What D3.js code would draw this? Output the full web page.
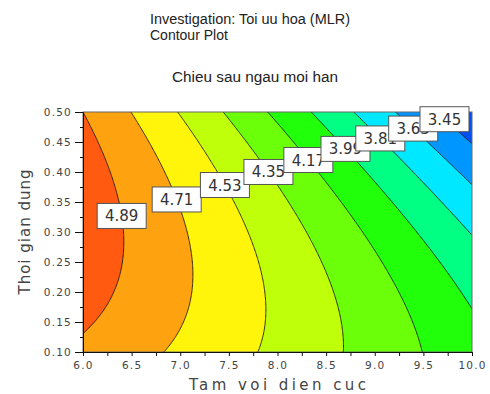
<!DOCTYPE html>
<html>
<head>
<meta charset="utf-8">
<script src="https://cdn.jsdelivr.net/npm/d3@7"></script>
<style>
  body { margin: 0; background: #fff; }
  svg { display: block; }
</style>
</head>
<body>
<svg id="chart" width="490" height="394"></svg>
<script>
// ---- Factors, response and fitted MLR model (coded units -1..+1) ----
const xRange = [6.0, 10.0];          // Tam voi dien cuc
const yRange = [0.10, 0.50];         // Thoi gian dung
const modelTerms = ["const", "x1", "x2", "x1*x1", "x2*x2", "x1*x2"];
const modelCoefs = [4.44, -0.60, -0.18, -0.04, -0.13, -0.20];

// Contour levels of the response "Chieu sau ngau moi han"
const levels = [3.45, 3.63, 3.81, 3.99, 4.17, 4.35, 4.53, 4.71, 4.89];
// Fill colours: below the first level, then above each level
const bandColors = ["#0050f5", "#0096ff", "#00e8ff", "#00ff82", "#22ff0a",
                    "#6cff0a", "#c0ff0a", "#fff50a", "#ffa20f", "#ff5a10"];

// Axis ticks
const xTicks = [6.0, 6.5, 7.0, 7.5, 8.0, 8.5, 9.0, 9.5, 10.0];
const xMinorTicks = [6.25, 6.75, 7.25, 7.75, 8.25, 8.75, 9.25, 9.75];
const yTicks = [0.10, 0.15, 0.20, 0.25, 0.30, 0.35, 0.40, 0.45, 0.50];
const yMinorTicks = [0.125, 0.175, 0.225, 0.275, 0.325, 0.375, 0.425, 0.475];

// Guide segment along which the level labels are placed
const labelGuide = [[6.30, 0.322], [9.80, 0.492]];

const titleLines = ["Investigation: Toi uu hoa (MLR)", "Contour Plot"];
const responseName = "Chieu sau ngau moi han";
const xTitle = "Tam voi dien cuc";
const yTitle = "Thoi gian dung";

// ---- Model evaluation ----
function predict(x, y) {
  const x1 = (x - (xRange[0] + xRange[1]) / 2) / ((xRange[1] - xRange[0]) / 2);
  const x2 = (y - (yRange[0] + yRange[1]) / 2) / ((yRange[1] - yRange[0]) / 2);
  const t = [1, x1, x2, x1 * x1, x2 * x2, x1 * x2];
  return d3.sum(t, (v, i) => v * modelCoefs[i]);
}

// ---- Layout ----
const svg = d3.select("#chart");
const plot = { left: 83, right: 472, top: 112, bottom: 352 };
const xs = d3.scaleLinear().domain(xRange).range([plot.left, plot.right]);
const ys = d3.scaleLinear().domain(yRange).range([plot.bottom, plot.top]);

// ---- Titles ----
svg.append("text").attr("x", 150).attr("y", 24)
  .attr("font-family", "Liberation Sans, Arial, sans-serif").attr("font-size", 14)
  .attr("fill", "#222").attr("textLength", 200).attr("lengthAdjust", "spacingAndGlyphs")
  .text(titleLines[0]);
svg.append("text").attr("x", 150).attr("y", 40)
  .attr("font-family", "Liberation Sans, Arial, sans-serif").attr("font-size", 14)
  .attr("fill", "#222")
  .text(titleLines[1]);
svg.append("text").attr("x", 172).attr("y", 82)
  .attr("font-family", "Liberation Sans, Arial, sans-serif").attr("font-size", 14)
  .attr("fill", "#222").attr("textLength", 166).attr("lengthAdjust", "spacingAndGlyphs")
  .text(responseName);

// ---- Response grid and contours ----
const n = 201, m = 201;
const values = new Float64Array(n * m);
for (let j = 0; j < m; j++) {
  const y = yRange[0] + j * (yRange[1] - yRange[0]) / (m - 1);
  for (let i = 0; i < n; i++) {
    const x = xRange[0] + i * (xRange[1] - xRange[0]) / (n - 1);
    values[j * n + i] = predict(x, y);
  }
}
const contours = d3.contours().size([n, m]).thresholds(levels)(values);

const gridToData = d3.geoTransform({
  point(cx, cy) {
    const x = xRange[0] + (cx - 0.5) * (xRange[1] - xRange[0]) / (n - 1);
    const y = yRange[0] + (cy - 0.5) * (yRange[1] - yRange[0]) / (m - 1);
    this.stream.point(xs(x), ys(y));
  }
});
const path = d3.geoPath(gridToData);

svg.append("clipPath").attr("id", "plot-clip")
  .append("rect")
  .attr("x", plot.left).attr("y", plot.top)
  .attr("width", plot.right - plot.left).attr("height", plot.bottom - plot.top);

const area = svg.append("g").attr("clip-path", "url(#plot-clip)");
area.append("rect")
  .attr("x", plot.left).attr("y", plot.top)
  .attr("width", plot.right - plot.left).attr("height", plot.bottom - plot.top)
  .attr("fill", bandColors[0]);
area.selectAll("path.band").data(contours).join("path")
  .attr("class", "band")
  .attr("d", path)
  .attr("fill", (d, i) => bandColors[i + 1])
  .attr("stroke", "none");
area.selectAll("path.iso").data(contours).join("path")
  .attr("class", "iso")
  .attr("d", path)
  .attr("fill", "none")
  .attr("stroke", "#1c1c1c")
  .attr("stroke-width", 0.9);

// Frame
svg.append("rect")
  .attr("x", plot.left).attr("y", plot.top)
  .attr("width", plot.right - plot.left).attr("height", plot.bottom - plot.top)
  .attr("fill", "none").attr("stroke", "#666").attr("stroke-width", 1);

// ---- Axes ----
const tickFont = "DejaVu Sans, Verdana, sans-serif";

const xAxis = svg.append("g").attr("transform", `translate(0,${plot.bottom})`)
  .call(d3.axisBottom(xs).tickValues(xTicks).tickFormat(d3.format(".1f"))
    .tickSize(4).tickPadding(6));
svg.append("g").attr("transform", `translate(0,${plot.bottom})`)
  .call(d3.axisBottom(xs).tickValues(xMinorTicks).tickFormat("").tickSize(4))
  .call(g => g.select(".domain").remove());

const yAxis = svg.append("g").attr("transform", `translate(${plot.left},0)`)
  .call(d3.axisLeft(ys).tickValues(yTicks).tickFormat(d3.format(".2f"))
    .tickSize(8).tickPadding(3));
svg.append("g").attr("transform", `translate(${plot.left},0)`)
  .call(d3.axisLeft(ys).tickValues(yMinorTicks).tickFormat("").tickSize(3))
  .call(g => g.select(".domain").remove());

svg.selectAll(".tick line").attr("stroke", "#111");
svg.selectAll(".domain").attr("stroke", "#111");
svg.selectAll(".tick text")
  .attr("font-family", tickFont).attr("font-size", 10.5)
  .attr("letter-spacing", 1.2).attr("fill", "#444");

svg.append("text")
  .attr("x", (plot.left + plot.right) / 2).attr("y", 390)
  .attr("text-anchor", "middle")
  .attr("font-family", tickFont).attr("font-size", 15)
  .attr("fill", "#444").attr("textLength", 177).attr("lengthAdjust", "spacing")
  .text(xTitle);
svg.append("text")
  .attr("transform", `translate(30,${(plot.top + plot.bottom) / 2}) rotate(-90)`)
  .attr("text-anchor", "middle")
  .attr("font-family", tickFont).attr("font-size", 15)
  .attr("fill", "#444").attr("textLength", 125).attr("lengthAdjust", "spacing")
  .text(yTitle);

// ---- Level labels: where each contour crosses the guide segment ----
function crossing(level) {
  const [p0, p1] = labelGuide;
  const at = t => [p0[0] + t * (p1[0] - p0[0]), p0[1] + t * (p1[1] - p0[1])];
  let lo = 0, hi = 1;
  for (let k = 0; k < 50; k++) {
    const mid = (lo + hi) / 2;
    const p = at(mid);
    if (predict(p[0], p[1]) > level) lo = mid; else hi = mid;
  }
  return at((lo + hi) / 2);
}

const labelData = levels.slice().sort((a, b) => b - a)
  .map(v => ({ value: v, pos: crossing(v) }));

const labels = svg.append("g").selectAll("g").data(labelData).join("g")
  .attr("transform", d => `translate(${xs(d.pos[0])},${ys(d.pos[1])})`);
labels.append("rect")
  .attr("x", -24.5).attr("y", -12.5).attr("width", 49).attr("height", 25)
  .attr("fill", "#fff").attr("stroke", "#555").attr("stroke-width", 1);
labels.append("text")
  .attr("text-anchor", "middle").attr("y", 5.5)
  .attr("font-family", tickFont).attr("font-size", 15)
  .attr("fill", "#333")
  .text(d => d3.format(".2f")(d.value));
</script>
</body>
</html>
